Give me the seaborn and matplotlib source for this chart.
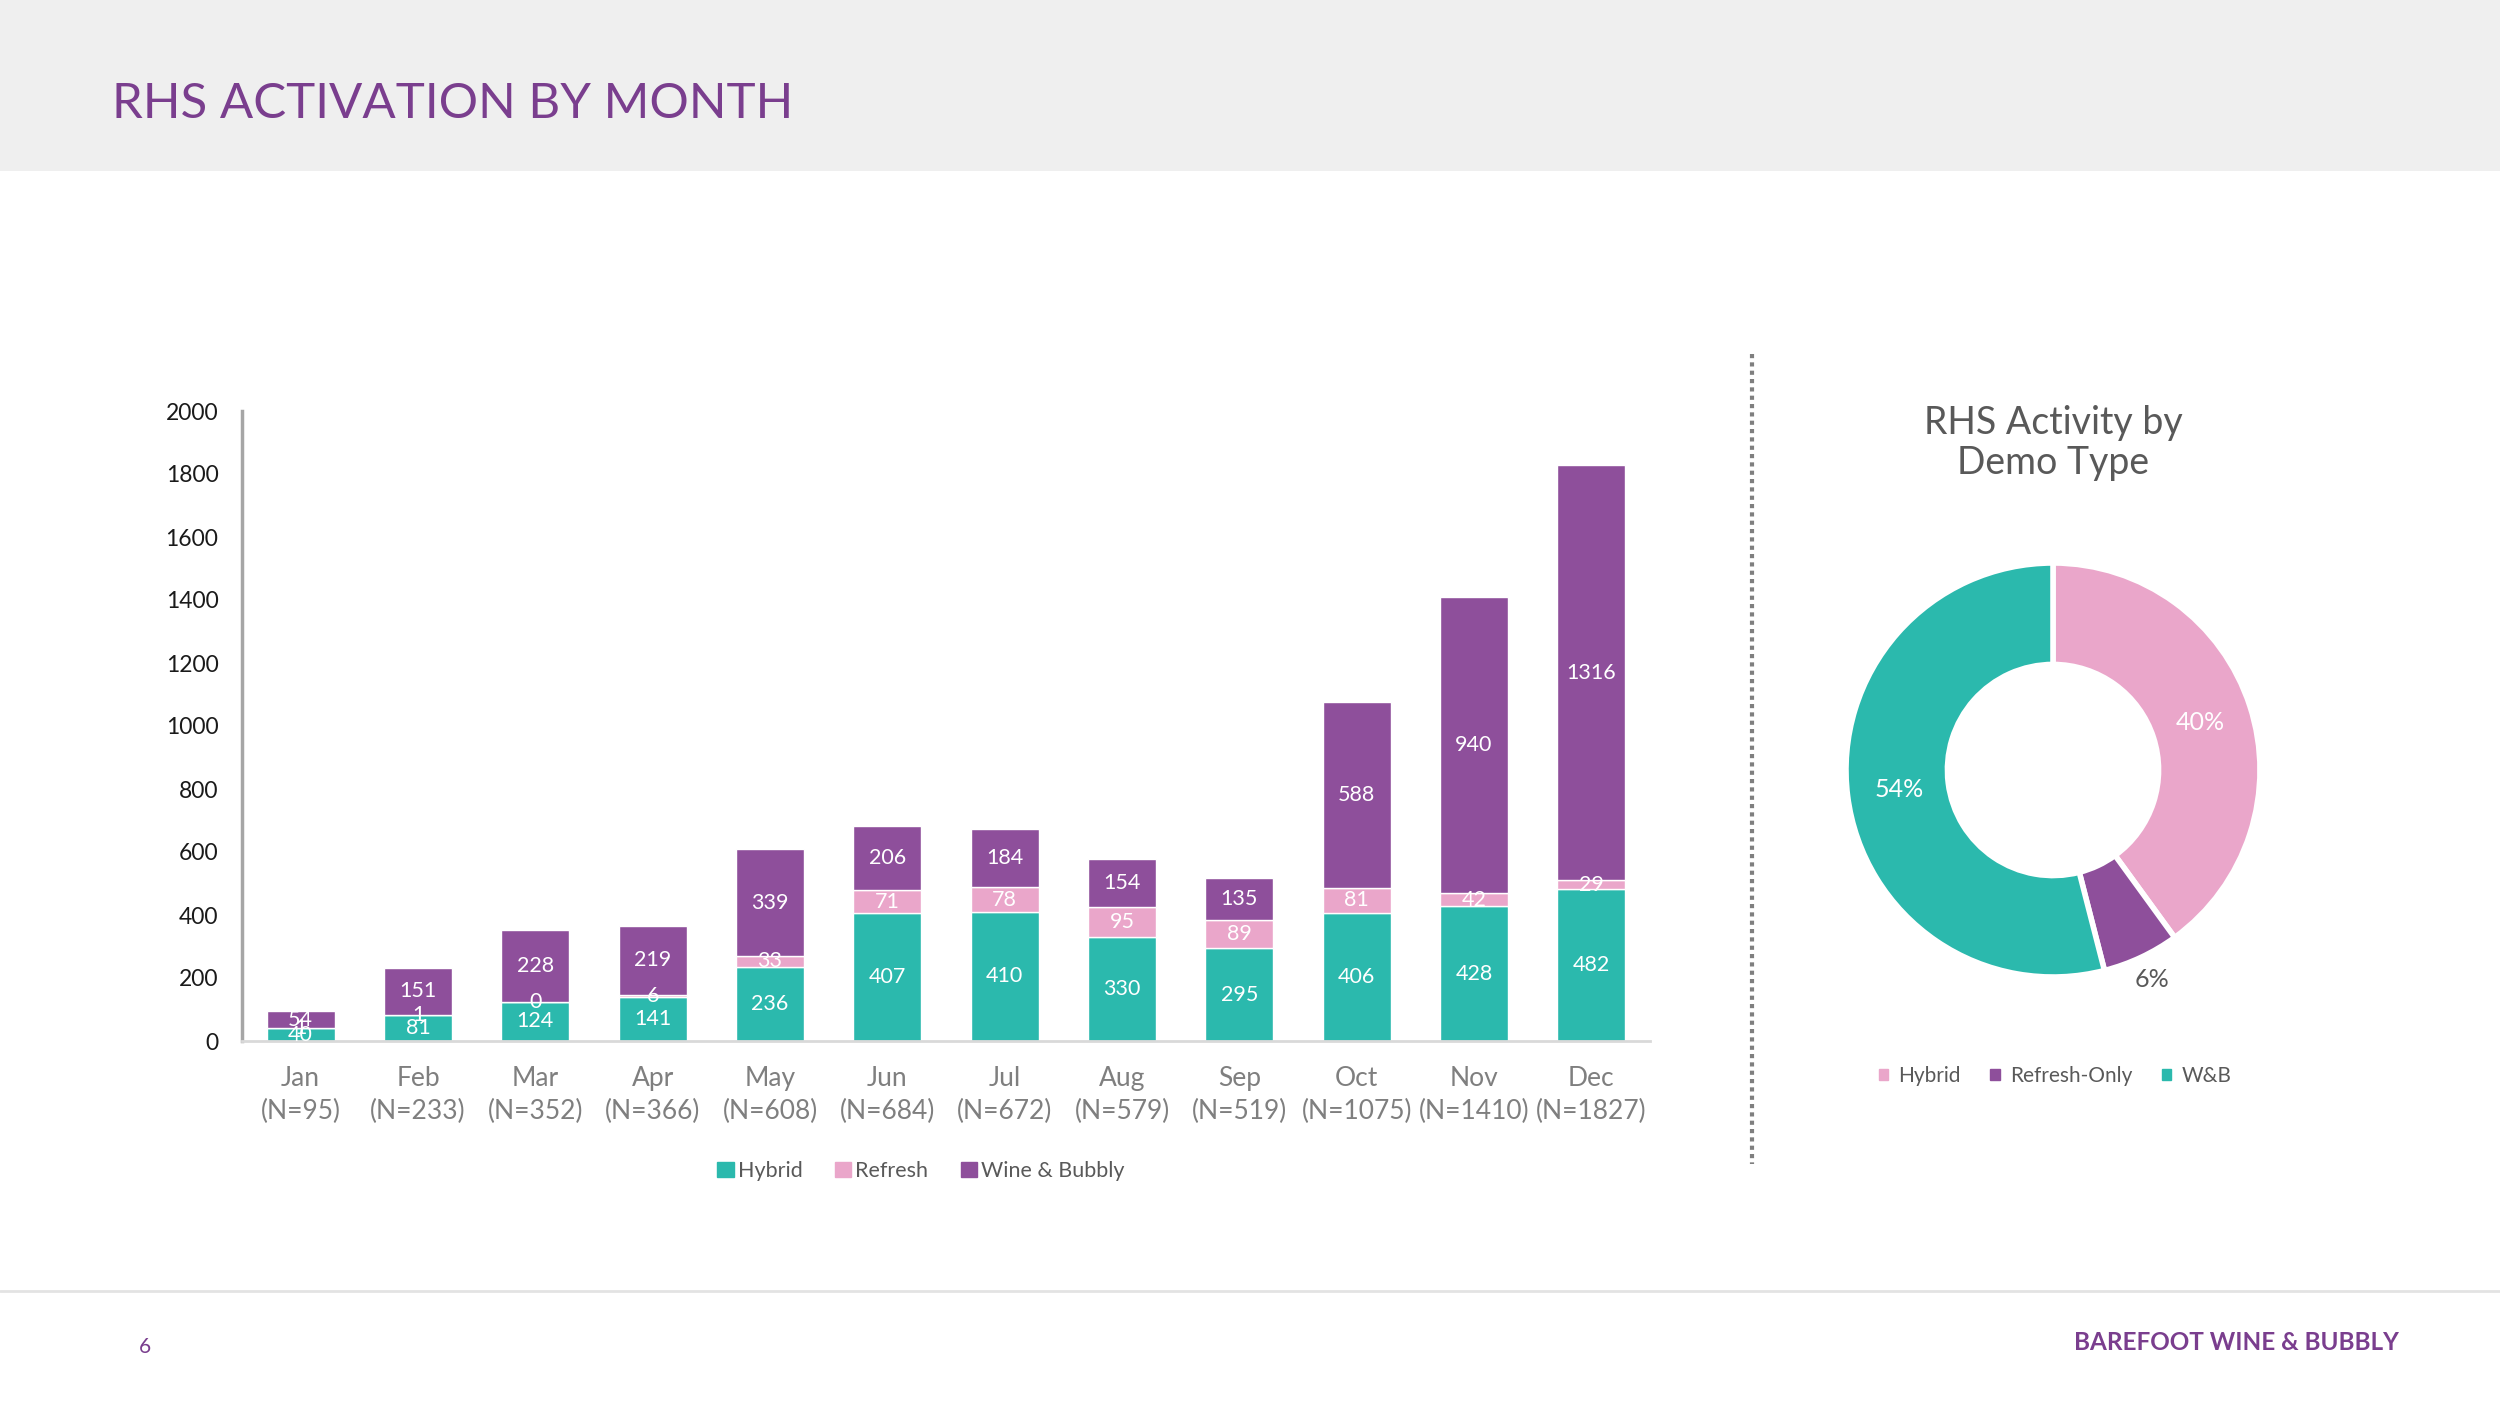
import numpy as np
import matplotlib.pyplot as plt
import seaborn as sns
from matplotlib.patches import Patch, Rectangle
from matplotlib.lines import Line2D

# Monthly activations by demo type
months = ["Jan", "Feb", "Mar", "Apr", "May", "Jun", "Jul", "Aug", "Sep", "Oct", "Nov", "Dec"]
n_totals = [95, 233, 352, 366, 608, 684, 672, 579, 519, 1075, 1410, 1827]
hybrid = [40, 81, 124, 141, 236, 407, 410, 330, 295, 406, 428, 482]
refresh = [1, 1, 0, 6, 33, 71, 78, 95, 89, 81, 42, 29]
wine_bubbly = [54, 151, 228, 219, 339, 206, 184, 154, 135, 588, 940, 1316]
y_ticks = [0, 200, 400, 600, 800, 1000, 1200, 1400, 1600, 1800, 2000]

# Donut share
demo_types = ["Hybrid", "Refresh-Only", "W&B"]
demo_share = [40, 6, 54]

TEAL = "#2bb9ad"
PINK = "#eaa6ca"
PURPLE = "#8e4f9b"
TITLE_PURPLE = "#7a3e8e"
GRAY = "#7f7f7f"
DARK = "#595959"

sns.set_style("white")
plt.rcParams["font.family"] = ["Lato", "DejaVu Sans"]

W, H = 2500, 1406
fig = plt.figure(figsize=(25, 14.06), dpi=100)
fig.patch.set_facecolor("white")

# header band
fig.patches.append(Rectangle((0, 1 - 171 / H), 1, 171 / H, transform=fig.transFigure,
                             facecolor="#efefef", edgecolor="none", zorder=0))
fig.text(112 / W, 1 - 104 / H, "RHS ACTIVATION BY MONTH", color=TITLE_PURPLE,
         fontsize=35.5, va="center", ha="left")

# footer
fig.add_artist(Line2D([0, 1], [1 - 1291 / H] * 2, transform=fig.transFigure,
                      color="#e3e3e3", lw=2))
fig.text(145 / W, 1 - 1347 / H, "6", color=TITLE_PURPLE, fontsize=15, va="center", ha="center")
fig.text(2236 / W, 1 - 1343 / H, "BAREFOOT WINE & BUBBLY", color=TITLE_PURPLE,
         fontsize=17.5, fontweight="bold", va="center", ha="center")

# dotted separator
fig.add_artist(Line2D([1752 / W] * 2, [1 - 354 / H, 1 - 1164 / H], transform=fig.transFigure,
                      color="#7f7f7f", lw=3, linestyle=(0, (1, 1))))

# stacked bar chart
ax = fig.add_axes([242 / W, 1 - 1041 / H, (1650 - 242) / W, (1041 - 411) / H])
xlabels = [f"{m}\n(N={n})" for m, n in zip(months, n_totals)]
bottom2 = np.array(hybrid)
bottom3 = bottom2 + np.array(refresh)
sns.barplot(x=xlabels, y=hybrid, color=TEAL, saturation=1, width=0.58, ax=ax)
sns.barplot(x=xlabels, y=refresh, bottom=bottom2, color=PINK, saturation=1, width=0.58, ax=ax)
sns.barplot(x=xlabels, y=wine_bubbly, bottom=bottom3, color=PURPLE, saturation=1, width=0.58, ax=ax)

for cont, vals in zip(ax.containers, [hybrid, refresh, wine_bubbly]):
    ax.bar_label(cont, labels=[str(v) for v in vals], label_type="center",
                 color="white", fontsize=15.5)

ax.set_ylim(0, 2000)
ax.set_xlim(-0.5, 11.5)
ax.set_yticks(y_ticks)
ax.tick_params(axis="y", length=0, pad=17, labelsize=16.5, labelcolor="#1a1a1a")
ax.tick_params(axis="x", length=0, pad=18, labelsize=19, labelcolor=GRAY)
for lab in ax.get_xticklabels():
    lab.set_linespacing(1.4)
for s in ["top", "right"]:
    ax.spines[s].set_visible(False)
ax.spines["left"].set_color("#a6a6a6")
ax.spines["left"].set_linewidth(2.5)
ax.spines["bottom"].set_color("#d9d9d9")
ax.spines["bottom"].set_linewidth(2)
ax.set_xlabel("")
ax.set_ylabel("")

bar_handles = [Patch(color=TEAL, label="Hybrid"), Patch(color=PINK, label="Refresh"),
               Patch(color=PURPLE, label="Wine & Bubbly")]
fig.legend(handles=bar_handles, loc="center", bbox_to_anchor=(921 / W, 1 - 1171 / H),
           ncol=3, frameon=False, fontsize=15.5, handlelength=0.75, handleheight=0.75,
           handletextpad=0.2, columnspacing=1.5, labelcolor=DARK)

# donut chart
R = 207
ax2 = fig.add_axes([(2053 - R) / W, 1 - (770 + R) / H, 2 * R / W, 2 * R / H])
wedges, texts, autotexts = ax2.pie(
    demo_share, colors=[PINK, PURPLE, TEAL], startangle=90, counterclock=False,
    radius=1, autopct="%d%%", pctdistance=0.75,
    wedgeprops=dict(width=0.49, edgecolor="white", linewidth=4),
    textprops=dict(color="white", fontsize=18))
# small slice label goes outside
th = np.deg2rad((wedges[1].theta1 + wedges[1].theta2) / 2)
autotexts[1].set_position((1.12 * np.cos(th), 1.12 * np.sin(th)))
autotexts[1].set_color(DARK)
ax2.set_xlim(-1, 1)
ax2.set_ylim(-1, 1)
ax2.set_aspect("equal")
ax2.axis("off")

fig.text(2053 / W, 1 - 443 / H, "RHS Activity by\nDemo Type", color=DARK, fontsize=27,
         ha="center", va="center", linespacing=1.15)

donut_handles = [Patch(color=c, label=l) for c, l in zip([PINK, PURPLE, TEAL], demo_types)]
fig.legend(handles=donut_handles, loc="center", bbox_to_anchor=(2055 / W, 1 - 1076 / H),
           ncol=3, frameon=False, fontsize=15, handlelength=0.45, handleheight=0.45,
           handletextpad=0.5, columnspacing=1.4, labelcolor=DARK)

fig.savefig("out.png", dpi=100, facecolor="white")
